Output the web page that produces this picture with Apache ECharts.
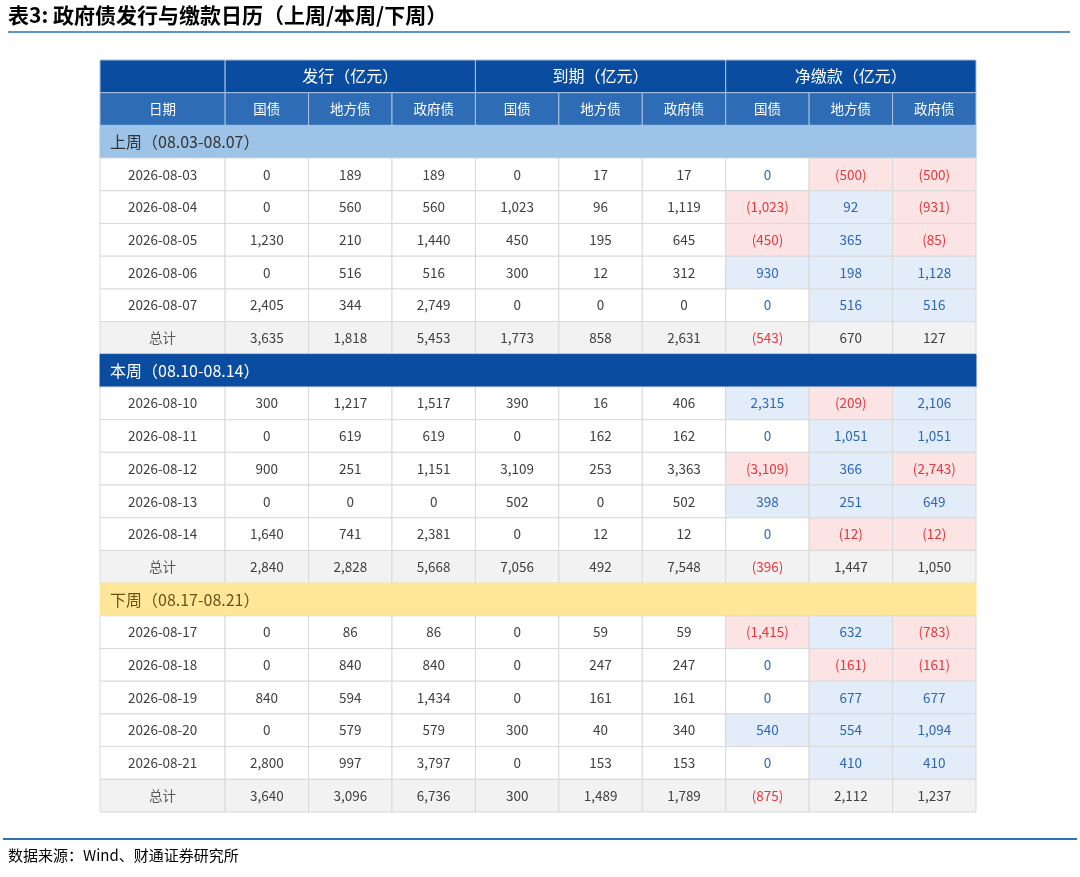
<!DOCTYPE html>
<html>
<head>
<meta charset="utf-8">
<script src="https://cdn.jsdelivr.net/npm/echarts@6/dist/echarts.min.js"></script>
<style>
  html, body { margin: 0; padding: 0; background: #fff; }
  #main { width: 1080px; height: 877px; }
</style>
</head>
<body>
<div id="main"></div>
<script>
var groupHeaders = ['发行（亿元）', '到期（亿元）', '净缴款（亿元）'];
var subHeaders = ['日期', '国债', '地方债', '政府债', '国债', '地方债', '政府债', '国债', '地方债', '政府债'];

var lastWeekLabel = '上周（08.03-08.07）';
var lastWeekDates = ['2026-08-03', '2026-08-04', '2026-08-05', '2026-08-06', '2026-08-07'];
var lastWeekRows = [
  [0, 189, 189, 0, 17, 17, 0, -500, -500],
  [0, 560, 560, 1023, 96, 1119, -1023, 92, -931],
  [1230, 210, 1440, 450, 195, 645, -450, 365, -85],
  [0, 516, 516, 300, 12, 312, 930, 198, 1128],
  [2405, 344, 2749, 0, 0, 0, 0, 516, 516]
];
var lastWeekTotal = [3635, 1818, 5453, 1773, 858, 2631, -543, 670, 127];

var thisWeekLabel = '本周（08.10-08.14）';
var thisWeekDates = ['2026-08-10', '2026-08-11', '2026-08-12', '2026-08-13', '2026-08-14'];
var thisWeekRows = [
  [300, 1217, 1517, 390, 16, 406, 2315, -209, 2106],
  [0, 619, 619, 0, 162, 162, 0, 1051, 1051],
  [900, 251, 1151, 3109, 253, 3363, -3109, 366, -2743],
  [0, 0, 0, 502, 0, 502, 398, 251, 649],
  [1640, 741, 2381, 0, 12, 12, 0, -12, -12]
];
var thisWeekTotal = [2840, 2828, 5668, 7056, 492, 7548, -396, 1447, 1050];

var nextWeekLabel = '下周（08.17-08.21）';
var nextWeekDates = ['2026-08-17', '2026-08-18', '2026-08-19', '2026-08-20', '2026-08-21'];
var nextWeekRows = [
  [0, 86, 86, 0, 59, 59, -1415, 632, -783],
  [0, 840, 840, 0, 247, 247, 0, -161, -161],
  [840, 594, 1434, 0, 161, 161, 0, 677, 677],
  [0, 579, 579, 300, 40, 340, 540, 554, 1094],
  [2800, 997, 3797, 0, 153, 153, 0, 410, 410]
];
var nextWeekTotal = [3640, 3096, 6736, 300, 1489, 1789, -875, 2112, 1237];

// column edges in axis units: date column is 1.5 wide, the rest 1
var colEdges = [0, 1.5, 2.5, 3.5, 4.5, 5.5, 6.5, 7.5, 8.5, 9.5, 10.5];

var FONT = '"Noto Sans CJK SC", "Noto Sans", sans-serif';
var DARK = '#0a4da0', MID = '#2e6db5';

function fmt(v) {
  var s = Math.abs(v).toLocaleString('en-US');
  return v < 0 ? '(' + s + ')' : s;
}

var cells = [];
function add(x0, x1, row, text, o) {
  o = o || {};
  cells.push({
    x0: x0, x1: x1, row: row, text: text,
    bg: o.bg || '#fff', stroke: o.stroke || '#d9d9d9', color: o.color || '#404040',
    size: o.size || 13.5, align: o.align || 'center'
  });
}

// header rows
add(colEdges[0], colEdges[1], 0, '', { bg: DARK, stroke: '#a9c0e0' });
groupHeaders.forEach(function (h, i) {
  add(colEdges[1 + i * 3], colEdges[4 + i * 3], 0, h, { bg: DARK, stroke: '#a9c0e0', color: '#fff', size: 16 });
});
subHeaders.forEach(function (h, i) {
  add(colEdges[i], colEdges[i + 1], 1, h, { bg: MID, stroke: '#a9c0e0', color: '#fff', size: 13.5 });
});

var row = 2;
function addWeek(label, secStyle, dates, rows, total) {
  add(colEdges[0], colEdges[10], row, label, {
    bg: secStyle.bg, stroke: secStyle.bg, color: secStyle.color, size: 16, align: 'left'
  });
  row++;
  rows.forEach(function (vals, r) {
    add(colEdges[0], colEdges[1], row, dates[r]);
    vals.forEach(function (v, j) {
      var o = {};
      if (j >= 6) {
        if (v < 0) { o.bg = '#fce4e5'; o.color = '#e8363e'; }
        else if (v > 0) { o.bg = '#e2edf9'; o.color = '#2e66b8'; }
        else { o.color = '#2e66b8'; }
      }
      add(colEdges[j + 1], colEdges[j + 2], row, fmt(v), o);
    });
    row++;
  });
  add(colEdges[0], colEdges[1], row, '总计', { bg: '#f2f2f2', color: '#595959' });
  total.forEach(function (v, j) {
    add(colEdges[j + 1], colEdges[j + 2], row, fmt(v), { bg: '#f2f2f2', color: v < 0 ? '#e8363e' : '#404040' });
  });
  row++;
}
addWeek(lastWeekLabel, { bg: '#9dc3e6', color: '#333' }, lastWeekDates, lastWeekRows, lastWeekTotal);
addWeek(thisWeekLabel, { bg: DARK, color: '#fff' }, thisWeekDates, thisWeekRows, thisWeekTotal);
addWeek(nextWeekLabel, { bg: '#ffe699', color: '#6b5417' }, nextWeekDates, nextWeekRows, nextWeekTotal);

function renderItem(params, api) {
  var c = cells[params.dataIndex];
  var p0 = api.coord([api.value(0), api.value(2)]);
  var p1 = api.coord([api.value(1), api.value(2) + 1]);
  var x = p0[0], y = Math.min(p0[1], p1[1]);
  var w = p1[0] - p0[0], h = Math.abs(p1[1] - p0[1]);
  return {
    type: 'group',
    children: [
      { type: 'rect', shape: { x: x, y: y, width: w, height: h },
        style: { fill: c.bg, stroke: c.stroke, lineWidth: 1 } },
      { type: 'text',
        style: { text: c.text, x: c.align === 'left' ? x + 10 : x + w / 2, y: y + h / 2,
          align: c.align, verticalAlign: 'middle', fill: c.color,
          font: c.size + 'px ' + FONT } }
    ]
  };
}

var dom = document.getElementById('main');
var myChart = echarts.init(dom, null, { renderer: 'canvas' });

var option = {
  animation: false,
  backgroundColor: '#fff',
  grid: { left: 100, right: 104, top: 60, bottom: 65 },
  xAxis: { type: 'value', min: 0, max: 10.5, show: false },
  yAxis: { type: 'value', min: 0, max: row, inverse: true, show: false },
  graphic: [
    { type: 'text', left: 8, top: 5,
      style: { text: '表3: 政府债发行与缴款日历（上周/本周/下周）', fill: '#000',
        font: 'bold 21px ' + FONT } },
    { type: 'line', shape: { x1: 8, y1: 32, x2: 1070, y2: 32 },
      style: { stroke: '#2e6db5', lineWidth: 1.5 } },
    { type: 'line', shape: { x1: 3, y1: 839, x2: 1077, y2: 839 },
      style: { stroke: '#2e75b6', lineWidth: 2 } },
    { type: 'text', left: 8, top: 848,
      style: { text: '数据来源：Wind、财通证券研究所', fill: '#000', font: '15px ' + FONT } }
  ],
  series: [{
    type: 'custom',
    renderItem: renderItem,
    encode: { x: [0, 1], y: 2 },
    data: cells.map(function (c) { return [c.x0, c.x1, c.row]; })
  }]
};

myChart.setOption(option);
window.addEventListener('resize', myChart.resize);
</script>
</body>
</html>
